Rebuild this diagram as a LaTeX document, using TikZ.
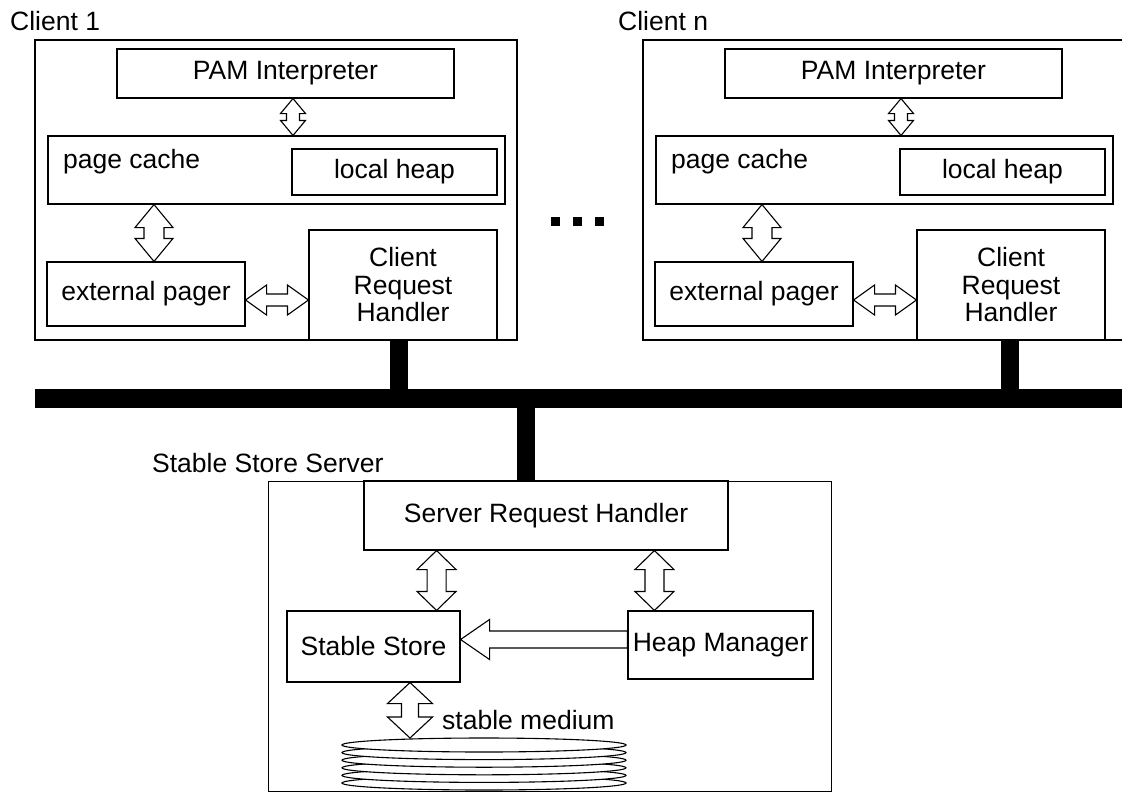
\documentclass[tikz,border=0pt]{standalone}
\usepackage{fontspec}
\setmainfont{Liberation Sans}
\usetikzlibrary{calc}

\newcommand\txt{\fontsize{26.5}{27.5}\selectfont}

\tikzset{
  box/.style={draw, line width=1.1pt, inner sep=0pt, align=center, font=\txt},
  lbl/.style={inner sep=0pt, font=\txt},
  blk/.style={draw, fill=white, line width=1.1pt, line join=miter},
  stub/.style={line width=18pt},
  disk/.style={draw, fill=white, line width=1.1pt},
}

% rectangle node given by its corners: [options]{name}{x1}{y1}{x2}{y2}{text}
\newcommand\rbox[7][]{%
  \node[box,#1,minimum width={(#5-#3)*1pt},minimum height={(#6-#4)*1pt}]
    (#2) at ({(#3+#5)/2},{(#4+#6)/2}) {#7};}

% vertical hollow double arrow: x from #1, top y from #2, bottom y from #3
% #4 shaft half width, #5 head length, #6 head half width
\newcommand\vdarrow[6]{%
  \draw[blk] let \p1=#1, \p2=#2, \p3=#3 in
    (\x1,\y2) -- (\x1-#6pt,\y2-#5pt) -- (\x1-#4pt,\y2-#5pt) -- (\x1-#4pt,\y3+#5pt)
    -- (\x1-#6pt,\y3+#5pt) -- (\x1,\y3) -- (\x1+#6pt,\y3+#5pt) -- (\x1+#4pt,\y3+#5pt)
    -- (\x1+#4pt,\y2-#5pt) -- (\x1+#6pt,\y2-#5pt) -- cycle;}

% horizontal hollow double arrow: y from #1, left x from #2, right x from #3
\newcommand\hdarrow[6]{%
  \draw[blk] let \p1=#1, \p2=#2, \p3=#3 in
    (\x2,\y1) -- (\x2+#5pt,\y1+#6pt) -- (\x2+#5pt,\y1+#4pt) -- (\x3-#5pt,\y1+#4pt)
    -- (\x3-#5pt,\y1+#6pt) -- (\x3,\y1) -- (\x3-#5pt,\y1-#6pt) -- (\x3-#5pt,\y1-#4pt)
    -- (\x2+#5pt,\y1-#4pt) -- (\x2+#5pt,\y1-#6pt) -- cycle;}

% hollow arrow pointing left: y from #1, tip x from #2, tail x from #3
\newcommand\larrow[6]{%
  \draw[blk] let \p1=#1, \p2=#2, \p3=#3 in
    (\x2,\y1) -- (\x2+#5pt,\y1+#6pt) -- (\x2+#5pt,\y1+#4pt) -- (\x3,\y1+#4pt)
    -- (\x3,\y1-#4pt) -- (\x2+#5pt,\y1-#4pt) -- (\x2+#5pt,\y1-#6pt) -- cycle;}

% one client workstation: suffix, x offset, title, stub shift
\newcommand\clientunit[4]{%
  \begin{scope}[xshift=#2pt]
    \node[lbl,anchor=west] (title#1) at (10,21) {#3};
    \rbox[line width=2.5pt]{c#1}{35}{40}{517}{340}{}
    \rbox{pam#1}{117}{49}{454}{98}{PAM Interpreter}
    \rbox{pc#1}{48}{136}{505}{204}{}
    \node[lbl,anchor=west] (pct#1) at (63,162) {page cache};
    \rbox{lh#1}{292}{149}{497}{195}{local heap}
    \rbox{ep#1}{47}{262}{245}{326}{external pager}
    \rbox{crh#1}{309}{230}{497}{340}{Client\\Request\\Handler}
    \vdarrow{([xshift=7.5pt]pam#1.south)}{(pam#1.south)}{(pc#1.north)}{6.5}{15}{12.5}
    \vdarrow{([xshift=8pt]ep#1.north)}{(pc#1.south)}{(ep#1.north)}{10}{23}{19}
    \hdarrow{([yshift=-6pt]ep#1.east)}{(ep#1.east)}{(crh#1.west)}{6}{21}{15}
    \coordinate (st#1) at ([xshift=#4pt]crh#1.south);
  \end{scope}}

\begin{document}
\begin{tikzpicture}[x=1pt,y=-1pt]
  \useasboundingbox (0,0) rectangle (1122,801);

  % network bus
  \node[fill=black, inner sep=0pt, minimum width=1095pt, minimum height=19pt,
        anchor=north west] (bus) at (35,389) {};

  % clients
  \clientunit{1}{0}{Client 1}{-4}
  \clientunit{n}{608}{Client n}{-1.5}

  \draw[stub] (st1) -- (st1 |- bus.north);
  \draw[stub] (stn) -- (stn |- bus.north);

  % ellipsis between clients
  \foreach \x in {555.5,577.5,599.5}
    \fill (\x-4.5,217) rectangle (\x+4.5,226);

  % stable store server
  \node[lbl,anchor=west] (srvt) at (152,463) {Stable Store Server};
  \rbox[line width=1pt]{srv}{268}{481}{831}{791}{}
  \rbox{srh}{364}{481}{728}{550}{Server Request Handler}
  \rbox{ss}{287}{611}{460}{682}{Stable Store}
  \rbox{hm}{628}{611}{813}{679}{Heap Manager}

  \coordinate (st0) at ([xshift=-23.5pt]srv.north);
  \draw[stub] (st0) -- (st0 |- bus.south);

  \vdarrow{([xshift=-24pt]ss.north east)}{(srh.south)}{(ss.north)}{9.5}{19}{19.5}
  \vdarrow{([xshift=27pt]hm.north west)}{(srh.south)}{(hm.north)}{9.5}{19}{19.5}
  \larrow{([yshift=7pt]ss.east)}{(ss.east)}{(hm.west)}{8.5}{29}{20}

  % stack of platters
  \foreach \i in {5,4,3,2,1,0}
    \draw[disk] (484,{745+7.6*\i}) ellipse [x radius=142, y radius=7];
  \coordinate (medium) at (484,738);
  \vdarrow{([xshift=36.5pt]ss.south)}{(ss.south)}{(medium)}{8.5}{21}{22.5}
  \node[lbl,anchor=west] (smt) at (442,720) {stable medium};
\end{tikzpicture}
\end{document}
